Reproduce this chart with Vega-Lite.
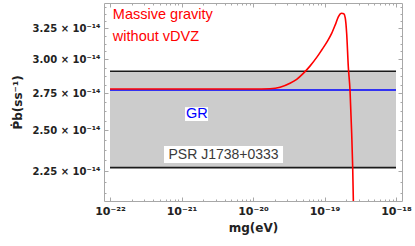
{
  "$schema": "https://vega.github.io/schema/vega-lite/v6.json",
  "width": 298,
  "height": 198,
  "autosize": "none",
  "padding": {"left": 104, "top": 3, "right": 13, "bottom": 45},
  "config": {
    "view": {"stroke": "#a8a8a8", "strokeWidth": 1},
    "axis": {"grid": false, "domain": false, "tickColor": "#a8a8a8", "labelFont": "DejaVu Sans", "titleFont": "DejaVu Sans", "labelColor": "#222222", "titleColor": "#222222"}
  },
  "datasets": {
    "band": [{"x": 1e-22, "x2": 1e-18, "lo": 2.27e-14, "hi": 2.91e-14}],
    "edges": [{"x": 1e-22, "x2": 1e-18, "y": 2.27e-14}, {"x": 1e-22, "x2": 1e-18, "y": 2.91e-14}],
    "gr": [{"x": 1e-22, "x2": 1e-18, "y": 2.773e-14}],
    "massive": [
      {"m": 1e-22, "p": 2.78e-14},
      {"m": 1e-21, "p": 2.78e-14},
      {"m": 3.162e-21, "p": 2.78e-14},
      {"m": 1e-20, "p": 2.78e-14},
      {"m": 1.73e-20, "p": 2.782e-14},
      {"m": 2.388e-20, "p": 2.792e-14},
      {"m": 3.289e-20, "p": 2.821e-14},
      {"m": 4.08e-20, "p": 2.85e-14},
      {"m": 5.05e-20, "p": 2.894e-14},
      {"m": 6.26e-20, "p": 2.949e-14},
      {"m": 7.78e-20, "p": 3.016e-14},
      {"m": 9.14e-20, "p": 3.074e-14},
      {"m": 1.1e-19, "p": 3.145e-14},
      {"m": 1.259e-19, "p": 3.208e-14},
      {"m": 1.413e-19, "p": 3.28e-14},
      {"m": 1.56e-19, "p": 3.349e-14},
      {"m": 1.66e-19, "p": 3.375e-14},
      {"m": 1.738e-19, "p": 3.38e-14},
      {"m": 1.862e-19, "p": 3.375e-14},
      {"m": 1.95e-19, "p": 3.34e-14},
      {"m": 2.042e-19, "p": 3.208e-14},
      {"m": 2.153e-19, "p": 2.943e-14},
      {"m": 2.275e-19, "p": 2.77e-14},
      {"m": 2.399e-19, "p": 2.48e-14},
      {"m": 2.477e-19, "p": 2.275e-14},
      {"m": 2.529e-19, "p": 2.094e-14},
      {"m": 2.57e-19, "p": 1.9e-14}
    ],
    "boxes": [
      {"x": 1.12e-21, "x2": 2.35e-21, "y": 2.56e-14, "y2": 2.653e-14},
      {"x": 5.69e-22, "x2": 2.63e-20, "y": 2.297e-14, "y2": 2.4e-14}
    ],
    "redText": [
      {"label": "Massive gravity", "x": 1.096e-22, "y": 3.364e-14},
      {"label": "without vDVZ", "x": 1.096e-22, "y": 3.178e-14}
    ],
    "grText": [{"label": "GR", "x": 1.64e-21, "y": 2.606e-14}],
    "psrText": [{"label": "PSR J1738+0333", "x": 3.87e-21, "y": 2.347e-14}]
  },
  "resolve": {"axis": {"x": "independent", "y": "independent"}},
  "layer": [
    {
      "data": {"name": "band"},
      "mark": {"type": "rect", "fill": "#cccccc"},
      "encoding": {
        "x": {"field": "x", "type": "quantitative", "scale": {"type": "log", "domain": [8.24e-23, 1.213e-18], "nice": false},
          "axis": {"orient": "bottom", "values": [1e-22, 1e-21, 1e-20, 1e-19, 1e-18], "tickSize": -4, "labelPadding": 8, "labelFontSize": 11, "labelFontWeight": "bold",
            "labelExpr": "round(log(datum.value)/LN10) == -22 ? '10⁻²²' : round(log(datum.value)/LN10) == -21 ? '10⁻²¹' : round(log(datum.value)/LN10) == -20 ? '10⁻²⁰' : round(log(datum.value)/LN10) == -19 ? '10⁻¹⁹' : '10⁻¹⁸'",
            "title": "mg(eV)", "titleFontSize": 12, "titleFontWeight": "bold", "titlePadding": 6}},
        "x2": {"field": "x2"},
        "y": {"field": "lo", "type": "quantitative", "scale": {"type": "log", "domain": [2.083e-14, 3.47e-14], "nice": false},
          "axis": {"orient": "left", "values": [2.25e-14, 2.5e-14, 2.75e-14, 3e-14, 3.25e-14], "tickSize": -4, "labelPadding": 8, "labelFontSize": 10, "labelFontWeight": "bold",
            "labelExpr": "format(datum.value*1e14, '.2f') + ' × 10⁻¹⁴'",
            "title": "Ṗb(ss⁻¹)", "titleFontSize": 12, "titleFontWeight": "bold", "titlePadding": 8}},
        "y2": {"field": "hi"}
      }
    },
    {
      "data": {"name": "edges"},
      "mark": {"type": "rule", "stroke": "#1a1a1a", "strokeWidth": 1.6},
      "encoding": {
        "x": {"field": "x", "type": "quantitative", "scale": {"type": "log", "domain": [8.24e-23, 1.213e-18], "nice": false},
          "axis": {"orient": "bottom", "values": [2e-22, 3e-22, 4e-22, 5e-22, 6e-22, 7e-22, 8e-22, 9e-22, 2e-21, 3e-21, 4e-21, 5e-21, 6e-21, 7e-21, 8e-21, 9e-21, 2e-20, 3e-20, 4e-20, 5e-20, 6e-20, 7e-20, 8e-20, 9e-20, 2e-19, 3e-19, 4e-19, 5e-19, 6e-19, 7e-19, 8e-19, 9e-19], "tickSize": -2, "labels": false, "title": null}},
        "x2": {"field": "x2"},
        "y": {"field": "y", "type": "quantitative", "scale": {"type": "log", "domain": [2.083e-14, 3.47e-14], "nice": false},
          "axis": {"orient": "left", "values": [2.125e-14, 2.1875e-14, 2.3125e-14, 2.375e-14, 2.4375e-14, 2.5625e-14, 2.625e-14, 2.6875e-14, 2.8125e-14, 2.875e-14, 2.9375e-14, 3.0625e-14, 3.125e-14, 3.1875e-14, 3.3125e-14, 3.375e-14, 3.4375e-14], "tickSize": -2, "labels": false, "title": null}}
      }
    },
    {
      "data": {"name": "boxes"},
      "mark": {"type": "rect", "fill": "white"},
      "encoding": {
        "x": {"field": "x", "type": "quantitative", "axis": null},
        "x2": {"field": "x2"},
        "y": {"field": "y", "type": "quantitative", "axis": null},
        "y2": {"field": "y2"}
      }
    },
    {
      "data": {"name": "gr"},
      "mark": {"type": "rule", "stroke": "#0000ff", "strokeWidth": 1.6},
      "encoding": {
        "x": {"field": "x", "type": "quantitative",
          "axis": {"orient": "top", "values": [1e-22, 1e-21, 1e-20, 1e-19, 1e-18], "tickSize": -4, "labels": false, "title": null}},
        "x2": {"field": "x2"},
        "y": {"field": "y", "type": "quantitative",
          "axis": {"orient": "right", "values": [2.25e-14, 2.5e-14, 2.75e-14, 3e-14, 3.25e-14], "tickSize": -4, "labels": false, "title": null}}
      }
    },
    {
      "data": {"name": "massive"},
      "mark": {"type": "line", "stroke": "#ff0000", "strokeWidth": 1.6, "clip": true, "interpolate": "monotone"},
      "encoding": {
        "x": {"field": "m", "type": "quantitative",
          "axis": {"orient": "top", "values": [2e-22, 3e-22, 4e-22, 5e-22, 6e-22, 7e-22, 8e-22, 9e-22, 2e-21, 3e-21, 4e-21, 5e-21, 6e-21, 7e-21, 8e-21, 9e-21, 2e-20, 3e-20, 4e-20, 5e-20, 6e-20, 7e-20, 8e-20, 9e-20, 2e-19, 3e-19, 4e-19, 5e-19, 6e-19, 7e-19, 8e-19, 9e-19], "tickSize": -2, "labels": false, "title": null}},
        "y": {"field": "p", "type": "quantitative",
          "axis": {"orient": "right", "values": [2.125e-14, 2.1875e-14, 2.3125e-14, 2.375e-14, 2.4375e-14, 2.5625e-14, 2.625e-14, 2.6875e-14, 2.8125e-14, 2.875e-14, 2.9375e-14, 3.0625e-14, 3.125e-14, 3.1875e-14, 3.3125e-14, 3.375e-14, 3.4375e-14], "tickSize": -2, "labels": false, "title": null}}
      }
    },
    {
      "data": {"name": "redText"},
      "mark": {"type": "text", "color": "#ff0000", "font": "Liberation Sans", "fontSize": 14.5, "align": "left", "baseline": "middle"},
      "encoding": {
        "x": {"field": "x", "type": "quantitative", "axis": null},
        "y": {"field": "y", "type": "quantitative", "axis": null},
        "text": {"field": "label"}
      }
    },
    {
      "data": {"name": "grText"},
      "mark": {"type": "text", "color": "#0000ff", "font": "Liberation Sans", "fontSize": 14.5, "align": "center", "baseline": "middle"},
      "encoding": {
        "x": {"field": "x", "type": "quantitative", "axis": null},
        "y": {"field": "y", "type": "quantitative", "axis": null},
        "text": {"field": "label"}
      }
    },
    {
      "data": {"name": "psrText"},
      "mark": {"type": "text", "color": "#3a3a3a", "font": "Liberation Sans", "fontSize": 14, "align": "center", "baseline": "middle"},
      "encoding": {
        "x": {"field": "x", "type": "quantitative", "axis": null},
        "y": {"field": "y", "type": "quantitative", "axis": null},
        "text": {"field": "label"}
      }
    }
  ]
}
